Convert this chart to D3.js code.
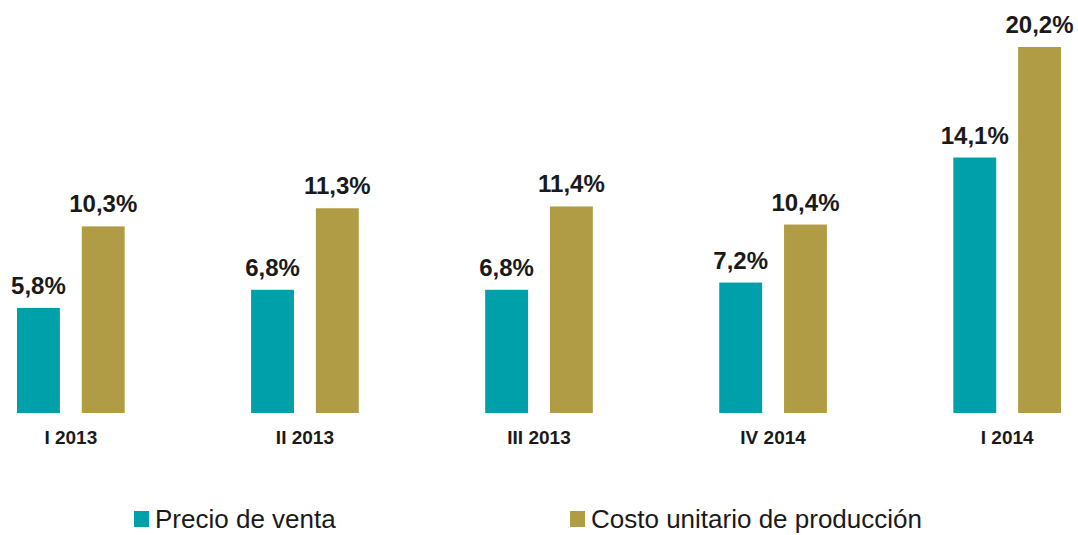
<!DOCTYPE html>
<html>
<head>
<meta charset="utf-8">
<script src="https://cdn.jsdelivr.net/npm/d3@7"></script>
<style>
  html, body { margin: 0; padding: 0; background: #fff; }
  #chart { width: 1078px; height: 535px; }
  text { font-family: Arial, "Liberation Sans", sans-serif; }
</style>
</head>
<body>
<div id="chart"></div>
<script>
const CATEGORIES = ["I 2013", "II 2013", "III 2013", "IV 2014", "I 2014"];
const SERIES = ["Precio de venta", "Costo unitario de producción"];
const PRECIO = [5.8, 6.8, 6.8, 7.2, 14.1];
const COSTO = [10.3, 11.3, 11.4, 10.4, 20.2];
const COLORS = ["#00A0AB", "#B09C45"];

const data = CATEGORIES.map((c, i) => ({
  cat: c,
  values: [
    { key: SERIES[0], value: PRECIO[i] },
    { key: SERIES[1], value: COSTO[i] }
  ]
}));

const width = 1078;
const height = 535;
const baseline = 413;

const svg = d3.select("#chart")
  .append("svg")
  .attr("width", width)
  .attr("height", height);

const x0 = d3.scaleBand()
  .domain(CATEGORIES)
  .range([17, 1061])
  .paddingInner(0.54)
  .paddingOuter(0);

const x1 = d3.scaleBand()
  .domain(SERIES)
  .range([0, x0.bandwidth()])
  .paddingInner(0.338)
  .paddingOuter(0);

const y = d3.scaleLinear()
  .domain([0, 20.2])
  .range([baseline, 47]);

const color = d3.scaleOrdinal().domain(SERIES).range(COLORS);

const fmt = v => v.toFixed(1).replace(".", ",") + "%";

const groups = svg.selectAll(".group")
  .data(data)
  .enter()
  .append("g")
  .attr("class", "group")
  .attr("transform", d => `translate(${x0(d.cat)},0)`);

groups.selectAll("rect")
  .data(d => d.values)
  .enter()
  .append("rect")
  .attr("x", d => x1(d.key))
  .attr("y", d => y(d.value))
  .attr("width", x1.bandwidth())
  .attr("height", d => baseline - y(d.value))
  .attr("fill", d => color(d.key));

groups.selectAll(".val")
  .data(d => d.values)
  .enter()
  .append("text")
  .attr("class", "val")
  .attr("x", d => x1(d.key) + x1.bandwidth() / 2)
  .attr("y", d => y(d.value) - 14)
  .attr("text-anchor", "middle")
  .attr("font-size", "24px")
  .attr("font-weight", "bold")
  .attr("fill", "#1a1a1a")
  .text(d => fmt(d.value));

// category labels (no axis line in the original)
svg.append("g")
  .attr("transform", `translate(0,${baseline})`)
  .call(d3.axisBottom(x0).tickSize(0).tickPadding(18))
  .call(g => g.select(".domain").remove())
  .selectAll("text")
  .attr("font-size", "19px")
  .attr("font-weight", "bold")
  .attr("font-family", "Arial, 'Liberation Sans', sans-serif")
  .attr("fill", "#1a1a1a");

// legend
const legendX = [134, 570];
const legend = svg.selectAll(".legend")
  .data(SERIES)
  .enter()
  .append("g")
  .attr("class", "legend")
  .attr("transform", (d, i) => `translate(${legendX[i]},511)`);

legend.append("rect")
  .attr("width", 15)
  .attr("height", 16)
  .attr("fill", d => color(d));

legend.append("text")
  .attr("x", 21)
  .attr("y", 17)
  .attr("font-size", "26px")
  .attr("fill", "#1a1a1a")
  .text(d => d);
</script>
</body>
</html>
